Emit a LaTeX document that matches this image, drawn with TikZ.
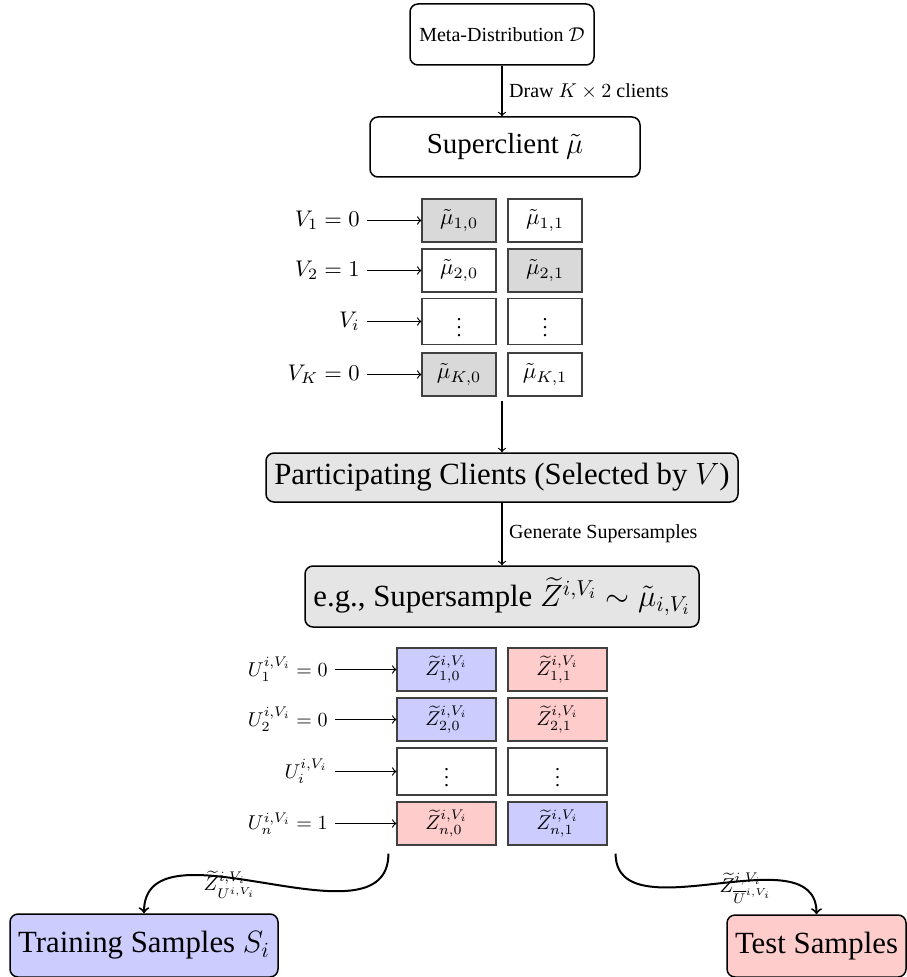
\RequirePackage{fix-cm}
\documentclass[tikz,border=0pt]{standalone}
\usepackage{amsmath}
\usepackage{fontspec}
\setmainfont{Liberation Serif}
\usetikzlibrary{calc}
\newcommand{\smallfont}{\fontsize{10}{12}\selectfont}
\newcommand{\gridfont}{\fontsize{11.3}{13.5}\selectfont}
\newcommand{\bigfont}{\fontsize{15.4}{18}\selectfont}
\tikzset{
  flowbox/.style={draw=black, line width=0.75pt, rounded corners=4pt, align=center, inner sep=2pt},
  smallbox/.style={flowbox, font=\smallfont},
  bigbox/.style={flowbox, font=\bigfont},
  cell/.style={draw=black!75, line width=0.6pt, minimum width=37pt, minimum height=21.5pt, inner sep=1pt, font=\gridfont},
  zcell/.style={cell, minimum width=49.5pt, font=\smallfont},
  rowlab/.style={anchor=east, inner xsep=3.5pt, inner ysep=0pt, font=\gridfont},
  zrowlab/.style={rowlab, font=\smallfont},
  arr/.style={->, line width=0.6pt},
  curvearr/.style={->, line width=1pt},
  edgelab/.style={font=\smallfont, inner sep=3.3pt},
  curvelab/.style={font=\smallfont, inner sep=0pt, yshift=-3.5pt},
}
\begin{document}
\begin{tikzpicture}[x=0.5pt,y=-0.5pt]
\useasboundingbox (0,0) rectangle (906,977);
% top boxes
\node[smallbox, minimum width=92pt, minimum height=30.5pt] (meta) at (502,34.5) {Meta-Distribution $\mathcal{D}$};
\node[bigbox, font=\fontsize{14.5}{17}\selectfont, minimum width=135pt, minimum height=30pt] (super) at (505,147) {Superclient $\tilde{\mu}$};
\draw[arr] (meta.south) -- (meta.south |- super.north) node[midway, right, edgelab] {Draw $K \times 2$ clients};
% mu grid
\node[cell, fill=gray!30] (m10) at (459,220.5) {$\tilde{\mu}_{1,0}$};
\node[cell] (m11) at (545,220.5) {$\tilde{\mu}_{1,1}$};
\node[cell] (m20) at (459,270.5) {$\tilde{\mu}_{2,0}$};
\node[cell, fill=gray!30] (m21) at (545,270.5) {$\tilde{\mu}_{2,1}$};
\node[cell, minimum height=23pt, font=\smallfont] (mi0) at (459,321.5) {$\vdots$};
\node[cell, minimum height=23pt, font=\smallfont] (mi1) at (545,321.5) {$\vdots$};
\node[cell, fill=gray!30] (mK0) at (459,374.5) {$\tilde{\mu}_{K,0}$};
\node[cell] (mK1) at (545,374.5) {$\tilde{\mu}_{K,1}$};
\node[rowlab] (v1) at (367,220.5) {$V_1 = 0$};
\node[rowlab] (v2) at (367,270.5) {$V_2 = 1$};
\node[rowlab] (vi) at (367,321.5) {$V_i$};
\node[rowlab] (vK) at (367,374.5) {$V_K = 0$};
\draw[arr] (v1.east) -- (m10.west);
\draw[arr] (v2.east) -- (m20.west);
\draw[arr] (vi.east) -- (mi0.west);
\draw[arr] (vK.east) -- (mK0.west);
% middle boxes
\coordinate (gbot) at ($($(mK0.south east)!0.5!(mK1.south west)$)+(0,4)$);
\node[bigbox, fill=gray!20, minimum width=236pt, minimum height=24.5pt] (part) at (502,477.5) {Participating Clients (Selected by $V$)};
\draw[arr] (gbot) -- (gbot |- part.north);
\node[bigbox, fill=gray!20, minimum width=197pt, minimum height=30.5pt] (ss) at (502,596.5) {e.g., Supersample $\widetilde{Z}^{i,V_i} \sim \tilde{\mu}_{i,V_i}$};
\draw[arr] (part.south) -- (ss.north) node[midway, right, edgelab] {Generate Supersamples};
% Z grid
\node[zcell, fill=blue!20] (z10) at (446.5,669.5) {$\widetilde{Z}^{i,V_i}_{1,0}$};
\node[zcell, fill=red!20] (z11) at (557.5,669.5) {$\widetilde{Z}^{i,V_i}_{1,1}$};
\node[zcell, fill=blue!20] (z20) at (446.5,719.5) {$\widetilde{Z}^{i,V_i}_{2,0}$};
\node[zcell, fill=red!20] (z21) at (557.5,719.5) {$\widetilde{Z}^{i,V_i}_{2,1}$};
\node[zcell, minimum height=23.5pt] (zi0) at (446.5,771.5) {$\vdots$};
\node[zcell, minimum height=23.5pt] (zi1) at (557.5,771.5) {$\vdots$};
\node[zcell, fill=red!20] (zn0) at (446.5,823.5) {$\widetilde{Z}^{i,V_i}_{n,0}$};
\node[zcell, fill=blue!20] (zn1) at (557.5,823.5) {$\widetilde{Z}^{i,V_i}_{n,1}$};
\node[zrowlab] (u1) at (335,669.5) {$U^{i,V_i}_1 = 0$};
\node[zrowlab] (u2) at (335,719.5) {$U^{i,V_i}_2 = 0$};
\node[zrowlab] (ui) at (335,771.5) {$U^{i,V_i}_i$};
\node[zrowlab] (un) at (335,823.5) {$U^{i,V_i}_n = 1$};
\draw[arr] (u1.east) -- (z10.west);
\draw[arr] (u2.east) -- (z20.west);
\draw[arr] (ui.east) -- (zi0.west);
\draw[arr] (un.east) -- (zn0.west);
% bottom boxes
\node[bigbox, fill=blue!20, minimum width=134pt, minimum height=31.5pt] (train) at (144,945.5) {Training Samples $S_i$};
\node[bigbox, fill=red!20, minimum width=89.5pt, minimum height=31pt] (test) at (816.5,946) {Test Samples};
\coordinate (ls) at ([shift={(-8,8)}]zn0.south west);
\coordinate (rs) at ([shift={(8,8)}]zn1.south east);
\draw[curvearr] (ls) to[out=-90,in=90] node[pos=0.6, curvelab] {$\widetilde{Z}^{i,V_i}_{U^{i,V_i}}$} (train.north);
\draw[curvearr] (rs) to[out=-90,in=90] node[pos=0.6, curvelab] {$\widetilde{Z}^{i,V_i}_{\overline{U}^{i,V_i}}$} (test.north);
\end{tikzpicture}
\end{document}
